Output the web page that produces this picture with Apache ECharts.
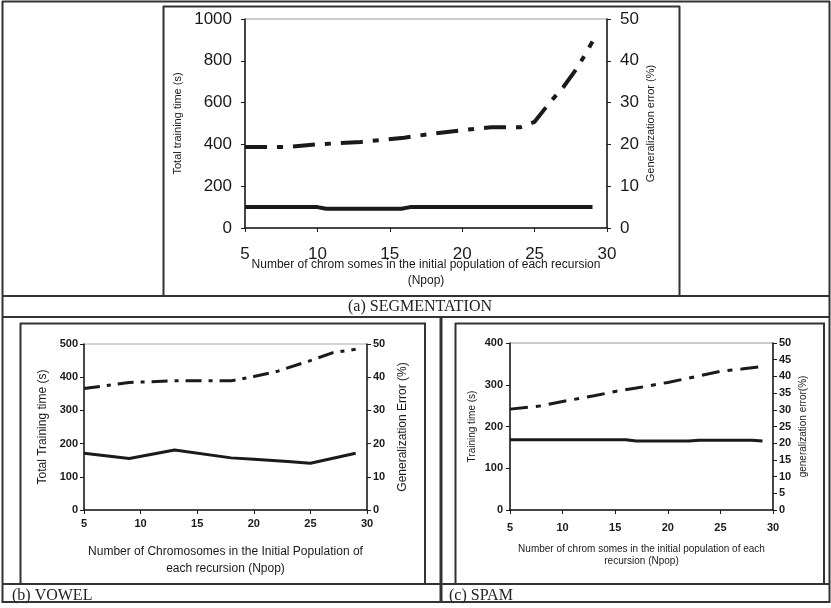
<!DOCTYPE html>
<html><head><meta charset="utf-8">
<script src="https://cdn.jsdelivr.net/npm/echarts@6/dist/echarts.min.js"></script>
<style>html,body{margin:0;padding:0;background:#fff}#c{width:831px;height:608px}</style>
</head><body><div id="c"></div>
<script>
// (a) SEGMENTATION
const segTimeX = [5, 10, 10.6, 15.8, 16.4, 29];
const segTimeY = [100, 100, 92, 92, 100, 100];
const segErrX = [5, 6.5, 8, 10, 13, 16, 18, 20, 22, 24, 25, 26, 27, 28, 29];
const segErrY = [19.4, 19.4, 19.4, 20.0, 20.6, 21.6, 22.6, 23.4, 24.1, 24.1, 25.4, 29.8, 33.8, 38.6, 44.6];
// (b) VOWEL
const vowTimeX = [5, 9, 13, 18, 20, 23, 25, 29];
const vowTimeY = [171, 155, 181, 157, 153, 146, 141, 171];
const vowErrX = [5, 9, 13, 18, 20, 22, 25, 27, 29];
const vowErrY = [36.6, 38.4, 38.9, 38.9, 40.2, 41.7, 45.0, 47.4, 48.4];
// (c) SPAM
const spamTimeX = [5, 16, 17, 22, 23, 28, 29];
const spamTimeY = [168, 168, 165, 165, 167, 167, 165];
const spamErrX = [5, 8, 10, 13, 15, 17, 20, 22, 25, 27, 29];
const spamErrY = [30.2, 31.2, 32.5, 34.2, 35.5, 36.5, 38.2, 39.5, 41.5, 42.2, 43.0];

const captions = ['(a) SEGMENTATION', '(b) VOWEL', '(c) SPAM'];
const xTitles = [
  'Number of chrom somes in the initial population of each recursion\n(Npop)',
  'Number of Chromosomes in the Initial Population of\neach recursion (Npop)',
  'Number of chrom somes in the initial population of each\nrecursion (Npop)'
];
const yLeftTitles = ['Total training time (s)', 'Total Training time (s)', 'Training time (s)'];
const yRightTitles = ['Generalization error (%)', 'Generalization Error (%)', 'generalization error(%)'];

const pairs = (xs, ys) => xs.map((x, i) => [x, ys[i]]);
const ink = '#1a1a1a';
const font = 'Liberation Sans, Arial, sans-serif';
const serif = 'Liberation Serif, Times New Roman, serif';
const plain = v => String(v);

function xAx(gi, fs, fw, margin, title, tfs, lh, gap) {
  return {
    gridIndex: gi, type: 'value', min: 5, max: 30, interval: 5,
    axisLine: {lineStyle: {color: ink, width: 1.5}},
    axisTick: {show: true, length: 4, lineStyle: {color: ink}},
    splitLine: {show: false},
    axisLabel: {fontSize: fs, fontWeight: fw, color: ink, margin: margin, fontFamily: font, formatter: plain},
    name: title, nameLocation: 'middle', nameGap: gap, nameMoveOverlap: false,
    nameTextStyle: {fontSize: tfs, lineHeight: lh, color: ink, fontFamily: font}
  };
}
function yAx(gi, pos, max, interval, fs, fw, margin, title, tfs, gap) {
  return {
    gridIndex: gi, type: 'value', position: pos, min: 0, max: max, interval: interval,
    axisLine: {show: true, lineStyle: {color: ink, width: 1.5}},
    axisTick: {show: true, length: 4, lineStyle: {color: ink}},
    splitLine: {show: false},
    axisLabel: {fontSize: fs, fontWeight: fw, color: ink, margin: margin, fontFamily: font, formatter: plain},
    name: title, nameLocation: 'middle', nameGap: gap, nameRotate: 90, nameMoveOverlap: false,
    nameTextStyle: {fontSize: tfs, color: ink, fontFamily: font}
  };
}
function solid(xi, yi, data, w) {
  return {type: 'line', xAxisIndex: xi, yAxisIndex: yi, data: data, showSymbol: false,
    lineStyle: {color: ink, width: w, type: 'solid'}, z: 3};
}
function dashed(xi, yi, data, w, pat) {
  return {type: 'line', xAxisIndex: xi, yAxisIndex: yi, data: data, showSymbol: false,
    lineStyle: {color: ink, width: w, type: pat, cap: 'butt'}, z: 3};
}
function hline(x1, x2, y, w) { return {type: 'line', shape: {x1: x1, y1: y, x2: x2, y2: y}, style: {stroke: '#333', lineWidth: w || 2}, silent: true}; }
function vline(x, y1, y2, w) { return {type: 'line', shape: {x1: x, y1: y1, x2: x, y2: y2}, style: {stroke: '#333', lineWidth: w || 2}, silent: true}; }

const chart = echarts.init(document.getElementById('c'), null, {renderer: 'canvas'});
chart.setOption({
  animation: false,
  backgroundColor: '#fff',
  grid: [
    {left: 245, top: 19, width: 362, height: 209, show: true, borderColor: '#999', borderWidth: 1},
    {left: 84, top: 344, width: 283, height: 166, show: true, borderColor: '#aaa', borderWidth: 1},
    {left: 510, top: 343, width: 263, height: 167, show: true, borderColor: '#999', borderWidth: 1}
  ],
  xAxis: [
    xAx(0, 17, 'normal', 18, xTitles[0], 12, 16, 29),
    xAx(1, 11, 'bold', 8, xTitles[1], 12, 17, 33),
    xAx(2, 11, 'bold', 12, xTitles[2], 10, 12, 33)
  ],
  yAxis: [
    yAx(0, 'left', 1000, 200, 17, 'normal', 13, yLeftTitles[0], 11, 62),
    yAx(0, 'right', 50, 10, 17, 'normal', 13, yRightTitles[0], 11, 38),
    yAx(1, 'left', 500, 100, 11, 'bold', 6, yLeftTitles[1], 12, 35),
    yAx(1, 'right', 50, 10, 11, 'bold', 6, yRightTitles[1], 12, 30),
    yAx(2, 'left', 400, 100, 11, 'bold', 7, yLeftTitles[2], 10, 33),
    yAx(2, 'right', 50, 5, 11, 'bold', 6, yRightTitles[2], 10, 25)
  ],
  series: [
    solid(0, 0, pairs(segTimeX, segTimeY), 4),
    dashed(0, 1, pairs(segErrX, segErrY), 4, [22, 10, 6, 10]),
    solid(1, 2, pairs(vowTimeX, vowTimeY), 3),
    dashed(1, 3, pairs(vowErrX, vowErrY), 3, [16, 7, 4, 7]),
    solid(2, 4, pairs(spamTimeX, spamTimeY), 3),
    dashed(2, 5, pairs(spamErrX, spamErrY), 3, [18, 8, 5, 8])
  ],
  graphic: [
    // outer frame
    hline(2, 830, 1.5, 2), vline(2.5, 1, 603, 2), vline(829.5, 1, 603, 2), hline(2, 830, 602, 2),
    // top panel box
    vline(163.5, 6, 296, 2), vline(679.5, 6, 296, 2), hline(163, 680, 6.5, 2),
    // caption row lines
    hline(2, 830, 296, 2), hline(2, 830, 317, 2), hline(2, 830, 584, 2),
    // vertical divider
    vline(441, 317, 603, 3),
    // bottom inner boxes
    vline(20.5, 323, 584, 2), vline(425, 323, 584, 2), hline(20, 426, 323.5, 2),
    vline(455.5, 323, 584, 2), vline(824, 323, 584, 2), hline(455, 825, 323.5, 2),
    // captions
    {type: 'text', style: {text: captions[0], x: 420, y: 306.5, align: 'center', verticalAlign: 'middle', font: '16px ' + serif, fill: '#222'}, silent: true},
    {type: 'text', style: {text: captions[1], x: 12, y: 596, align: 'left', verticalAlign: 'middle', font: '16px ' + serif, fill: '#222'}, silent: true},
    {type: 'text', style: {text: captions[2], x: 449, y: 596, align: 'left', verticalAlign: 'middle', font: '16px ' + serif, fill: '#222'}, silent: true}
  ]
});
</script></body></html>
